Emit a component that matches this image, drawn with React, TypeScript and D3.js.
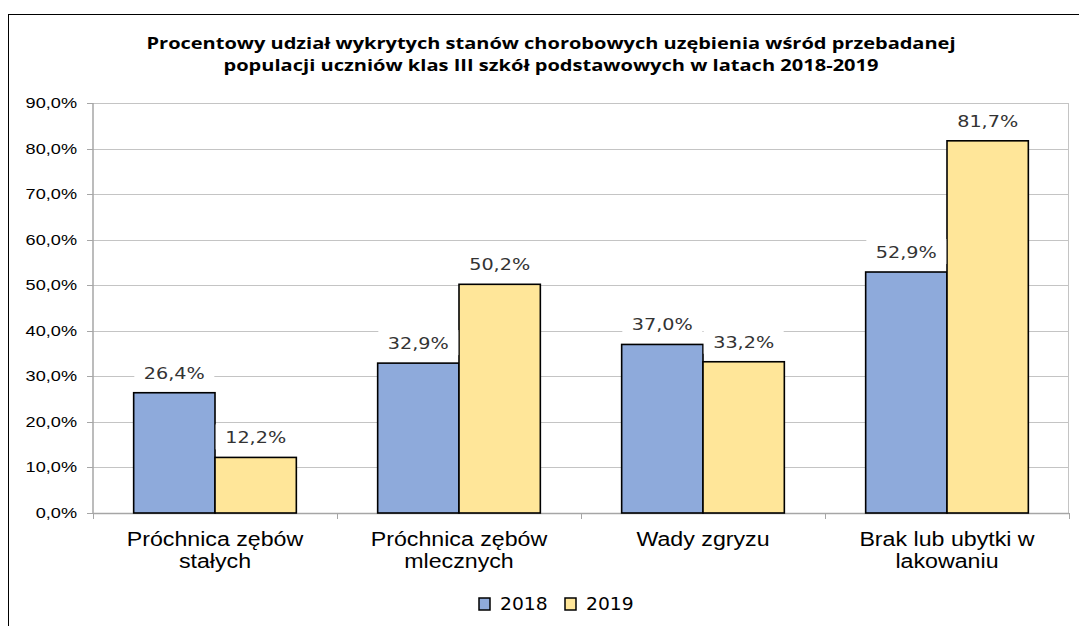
import React from 'react'
import * as d3 from 'd3'

const titleLines = [
  'Procentowy udział wykrytych stanów chorobowych uzębienia wśród przebadanej',
  'populacji uczniów klas III szkół podstawowych w latach 2018-2019',
]
const categories = ['Próchnica zębów stałych', 'Próchnica zębów mlecznych', 'Wady zgryzu', 'Brak lub ubytki w lakowaniu']
const categoryLines = [['Próchnica zębów', 'stałych'], ['Próchnica zębów', 'mlecznych'], ['Wady zgryzu'], ['Brak lub ubytki w', 'lakowaniu']]
const series = ['2018', '2019']
const values2018 = [26.4, 32.9, 37.0, 52.9]
const values2019 = [12.2, 50.2, 33.2, 81.7]
const yTicks = [0, 10, 20, 30, 40, 50, 60, 70, 80, 90]
const colors = ['#8eaadb', '#ffe699']

const fmt = (v: number) => v.toFixed(1).replace('.', ',') + '%'

export default function App() {
  const W = 1079
  const H = 626
  const left = 93
  const right = 1069
  const top = 103
  const bottom = 513

  const x0 = d3.scaleBand().domain(categories).range([left, right]).paddingInner(0).paddingOuter(0)
  const x1 = d3.scaleBand().domain(series).range([0, x0.bandwidth()]).paddingInner(0).paddingOuter(0.5)
  const y = d3.scaleLinear().domain([0, 90]).range([bottom, top])
  const allValues = [values2018, values2019]

  // horizontally stretched text like the original picture
  const st = (x: number, yy: number, sx: number) => `translate(${x},${yy}) scale(${sx},1)`

  return (
    <svg width={W} height={H} style={{ position: 'absolute', left: 0, top: 0, background: '#fff' }}>
      <rect x={8.5} y={14.5} width={1200} height={800} fill="#fff" stroke="#000" strokeWidth={1} />

      {titleLines.map((t, i) => (
        <text key={i} x={551} y={49 + i * 22} textAnchor="middle" fontFamily="Open Sans" fontWeight={700} fontSize={16}
          textLength={i === 0 ? 809 : 655} lengthAdjust="spacingAndGlyphs" fill="#000">{t}</text>
      ))}

      {/* gridlines */}
      {yTicks.map(t => (
        <line key={t} x1={left} x2={right} y1={Math.round(y(t)) + 0.5} y2={Math.round(y(t)) + 0.5} stroke="#c4c4c4" strokeWidth={1} />
      ))}
      <line x1={right - 0.5} x2={right - 0.5} y1={top} y2={bottom} stroke="#c4c4c4" />
      <line x1={left} x2={left} y1={top} y2={bottom + 1} stroke="#a6a6a6" strokeWidth={1.5} />
      <line x1={left} x2={right} y1={bottom + 0.5} y2={bottom + 0.5} stroke="#a6a6a6" strokeWidth={1.5} />

      {/* y ticks */}
      {yTicks.map(t => (
        <g key={t}>
          <line x1={left - 6} x2={left} y1={Math.round(y(t)) + 0.5} y2={Math.round(y(t)) + 0.5} stroke="#a6a6a6" />
          <text transform={st(77, y(t) + 5, 1.25)} textAnchor="end" fontFamily="Liberation Sans" fontSize={14.5} fill="#000">{fmt(t)}</text>
        </g>
      ))}

      {/* x ticks */}
      {[...categories.map(c => x0(c) as number), right].map((xv, i) => (
        <line key={i} x1={Math.round(xv) + 0.5} x2={Math.round(xv) + 0.5} y1={bottom} y2={bottom + 6} stroke="#a6a6a6" />
      ))}

      {/* bars */}
      {categories.map((c, ci) => (
        <g key={c} transform={`translate(${x0(c)},0)`}>
          {series.map((s, si) => {
            const v = allValues[si][ci]
            return (
              <rect key={s} x={x1(s)} y={y(v)} width={x1.bandwidth()} height={bottom - y(v)} fill={colors[si]} stroke="#000" strokeWidth={1.6} />
            )
          })}
        </g>
      ))}

      {/* value labels */}
      {categories.map((c, ci) => (
        <g key={c} transform={`translate(${x0(c)},0)`}>
          {series.map((s, si) => {
            const v = allValues[si][ci]
            const cx = (x1(s) as number) + x1.bandwidth() / 2
            const by = y(v) - 14
            return (
              <g key={s}>
                <rect x={cx - 40} y={by - 19} width={80} height={25} fill="#fff" />
                <text transform={st(cx, by, 1.2)} textAnchor="middle" fontFamily="DejaVu Sans" fontSize={16} fill="#333">{fmt(v)}</text>
              </g>
            )
          })}
        </g>
      ))}

      {/* category labels */}
      {categories.map((c, ci) => (
        <g key={c}>
          {categoryLines[ci].map((l, li) => (
            <text key={li} transform={st((x0(c) as number) + x0.bandwidth() / 2, 546 + li * 22, 1.16)} textAnchor="middle"
              fontFamily="Liberation Sans" fontSize={20} fill="#000">{l}</text>
          ))}
        </g>
      ))}

      {/* legend */}
      {series.map((s, si) => (
        <g key={s} transform={`translate(${479 + si * 86},598)`}>
          <rect x={0} y={0} width={11} height={12} fill={colors[si]} stroke="#000" strokeWidth={1.5} />
          <text transform={st(21, 12, 1.1)} fontFamily="DejaVu Sans" fontSize={17} fill="#000">{s}</text>
        </g>
      ))}
    </svg>
  )
}
